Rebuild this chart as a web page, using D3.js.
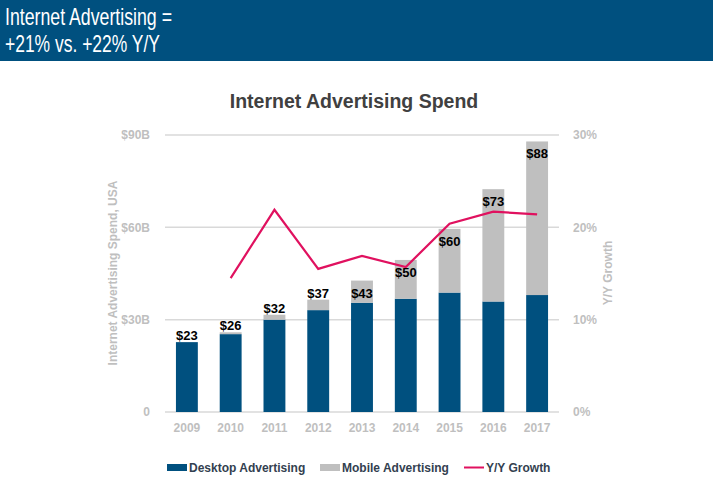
<!DOCTYPE html>
<html><head><meta charset="utf-8">
<script src="https://cdn.jsdelivr.net/npm/d3@7/dist/d3.min.js"></script>
<style>body{margin:0;background:#fff;} svg{display:block;font-family:Arial,"Liberation Sans",Helvetica,sans-serif;}</style>
</head><body><div id="chart"></div>
<script>
const years = ["2009","2010","2011","2012","2013","2014","2015","2016","2017"];
const desktop = [22.7, 25.3, 30.0, 33.1, 35.5, 36.8, 38.8, 35.9, 38.0];
const mobile  = [0.0, 0.6, 1.6, 3.4, 7.2, 12.6, 20.7, 36.5, 49.9];
const totalLabels = ["$23","$26","$32","$37","$43","$50","$60","$73","$88"];
const growth = [null, 14.5, 21.9, 15.5, 16.9, 15.7, 20.4, 21.7, 21.4];
const leftTicks = [0, 30, 60, 90];
const leftTickLabels = ["0", "$30B", "$60B", "$90B"];
const rightTicks = [0, 10, 20, 30];
const rightTickLabels = ["0%", "10%", "20%", "30%"];
const headerLines = ["Internet Advertising =", "+21% vs. +22% Y/Y"];

(function(){
const W = 713, H = 488;
const svg = d3.select("#chart").append("svg").attr("width", W).attr("height", H);

const blue = "#00507F", grey = "#BFBFBF", pink = "#E0115F", axisGrey = "#BFBFBF";

// header
svg.append("rect").attr("x",0).attr("y",0).attr("width",W).attr("height",61).attr("fill",blue);
svg.selectAll("text.hdr").data(headerLines).join("text")
  .attr("class","hdr")
  .attr("x",5).attr("y",(d,i)=>25+i*27)
  .attr("fill","#fff").attr("font-size",24)
  .attr("font-family","'Liberation Sans Narrow','Arial Narrow',Arial,sans-serif")
  .attr("textLength",(d,i)=> i===0 ? 167 : 155).attr("lengthAdjust","spacingAndGlyphs")
  .text(d=>d);

// chart title
svg.append("text").attr("x",354).attr("y",108).attr("text-anchor","middle")
  .attr("font-size",19.5).attr("font-weight","bold").attr("fill","#404040")
  .text("Internet Advertising Spend");

const pL = 165, pR = 559, pT = 135, pB = 412;
const x = d3.scaleBand().domain(years).range([pL, pR]).paddingInner(0.5).paddingOuter(0.25);
const y = d3.scaleLinear().domain([0, 90]).range([pB, pT]);
const y2 = d3.scaleLinear().domain([0, 30]).range([pB, pT]);

// gridlines
svg.append("g").selectAll("line").data(leftTicks).join("line")
  .attr("x1",pL).attr("x2",pR).attr("y1",d=>y(d)).attr("y2",d=>y(d))
  .attr("stroke","#D9D9D9").attr("stroke-width",1.5);

// left axis labels
const la = svg.append("g").attr("transform",`translate(${pL-12},0)`)
  .call(d3.axisLeft(y).tickValues(leftTicks).tickFormat((d,i)=>leftTickLabels[i]).tickSize(0));
la.select(".domain").remove();
la.selectAll("text").attr("font-size",12).attr("font-weight","bold").attr("fill",axisGrey)
  .attr("font-family","Arial,'Liberation Sans',sans-serif");

// right axis labels
const ra = svg.append("g").attr("transform",`translate(${pR+11},0)`)
  .call(d3.axisRight(y2).tickValues(rightTicks).tickFormat((d,i)=>rightTickLabels[i]).tickSize(0));
ra.select(".domain").remove();
ra.selectAll("text").attr("font-size",12).attr("font-weight","bold").attr("fill",axisGrey)
  .attr("font-family","Arial,'Liberation Sans',sans-serif");

// x axis labels
const xa = svg.append("g").attr("transform",`translate(0,${pB+8})`)
  .call(d3.axisBottom(x).tickSize(0));
xa.select(".domain").remove();
xa.selectAll("text").attr("font-size",12).attr("font-weight","bold").attr("fill",axisGrey)
  .attr("font-family","Arial,'Liberation Sans',sans-serif");

// axis titles
svg.append("text").attr("transform","translate(117,273) rotate(-90)")
  .attr("text-anchor","middle").attr("font-size",12).attr("font-weight","bold").attr("fill",axisGrey)
  .text("Internet Advertising Spend, USA");
svg.append("text").attr("transform","translate(612,273) rotate(-90)")
  .attr("text-anchor","middle").attr("font-size",12).attr("font-weight","bold").attr("fill",axisGrey)
  .text("Y/Y Growth");

// bars
const stackData = years.map((yr,i)=>({year:yr, desktop:desktop[i], mobile:mobile[i]}));
const stack = d3.stack().keys(["desktop","mobile"])(stackData);
const colors = {desktop: blue, mobile: grey};
svg.append("g").selectAll("g").data(stack).join("g")
  .attr("fill", s=>colors[s.key])
  .selectAll("rect").data(s=>s).join("rect")
  .attr("x", d=>x(d.data.year)).attr("width", x.bandwidth())
  .attr("y", d=>y(d[1])).attr("height", d=>Math.max(0, y(d[0]) - y(d[1])));

// line
const lineData = years.map((yr,i)=>({year:yr, v:growth[i]})).filter(d=>d.v!=null);
svg.append("path").datum(lineData)
  .attr("fill","none").attr("stroke",pink).attr("stroke-width",2.2).attr("stroke-linejoin","miter")
  .attr("d", d3.line().x(d=>x(d.year)+x.bandwidth()/2).y(d=>y2(d.v)));

// totals labels
svg.append("g").selectAll("text").data(years).join("text")
  .attr("x", d=>x(d)+x.bandwidth()/2)
  .attr("y", (d,i)=>{ const t = desktop[i]+mobile[i]; return t >= 40 ? y(t)+17 : y(t)-2; })
  .attr("text-anchor","middle").attr("font-size",13).attr("font-weight","bold").attr("fill","#000")
  .text((d,i)=>totalLabels[i]);

// legend
const legend = [
  {label:"Desktop Advertising", type:"rect", color:blue, x:167},
  {label:"Mobile Advertising", type:"rect", color:grey, x:320},
  {label:"Y/Y Growth", type:"line", color:pink, x:464}
];
const lg = svg.append("g");
legend.forEach(l=>{
  if (l.type==="rect") lg.append("rect").attr("x",l.x).attr("y",464).attr("width",20).attr("height",7).attr("fill",l.color);
  else lg.append("line").attr("x1",l.x).attr("x2",l.x+20).attr("y1",467.5).attr("y2",467.5).attr("stroke",l.color).attr("stroke-width",2);
  lg.append("text").attr("x",l.x+22).attr("y",472).attr("font-size",12).attr("font-weight","bold").attr("fill","#333F50").text(l.label);
});
})();
</script></body></html>
